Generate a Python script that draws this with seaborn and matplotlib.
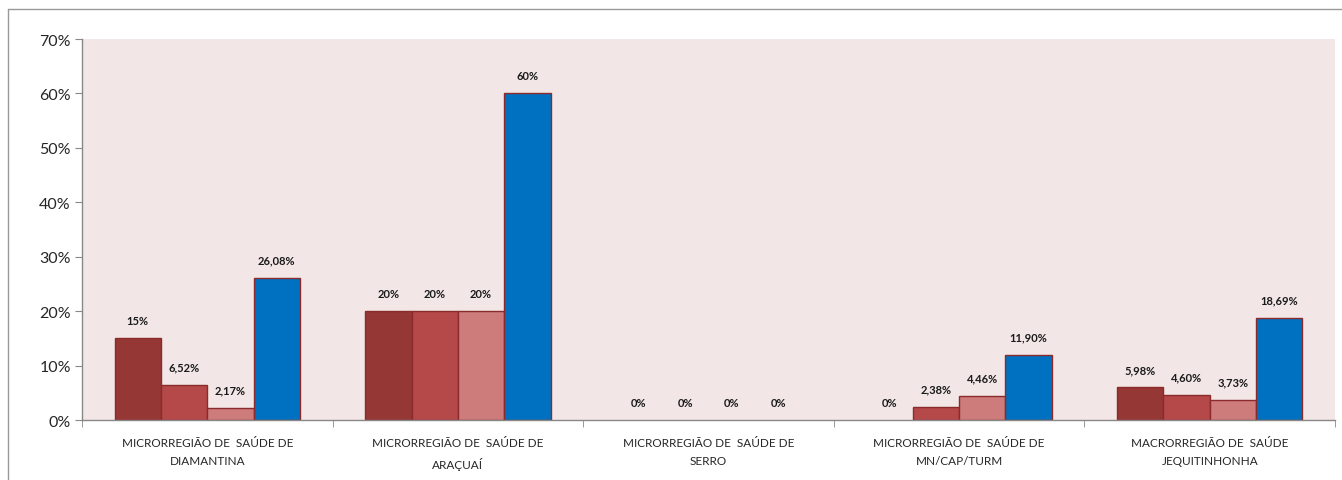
import pandas as pd
import numpy as np
import matplotlib.pyplot as plt
import seaborn as sns
from matplotlib.ticker import FuncFormatter, FixedLocator

# Data (percent)
categories = ['MICRORREGIÃO DE  SAÚDE DE\nDIAMANTINA',
              'MICRORREGIÃO DE  SAÚDE DE\nARAÇUAÍ',
              'MICRORREGIÃO DE  SAÚDE DE\nSERRO',
              'MICRORREGIÃO DE  SAÚDE DE\nMN/CAP/TURM',
              'MACRORREGIÃO DE  SAÚDE\nJEQUITINHONHA']
series = ['Série 1', 'Série 2', 'Série 3', 'Série 4']
serie_1 = [15, 20, 0, 0, 5.98]
serie_2 = [6.52, 20, 0, 2.38, 4.60]
serie_3 = [2.17, 20, 0, 4.46, 3.73]
serie_4 = [26.08, 60, 0, 11.90, 18.69]
colors = ['#953735', '#B54848', '#CD7B7B', '#0070C0']

rows = []
for name, vals in zip(series, [serie_1, serie_2, serie_3, serie_4]):
    for cat, v in zip(categories, vals):
        rows.append({'Região': cat, 'Série': name, 'Valor': v})
df = pd.DataFrame(rows)

sns.set_style('white')
plt.rcParams['font.family'] = ['Lato', 'DejaVu Sans']

fig = plt.figure(figsize=(13.42, 4.81), dpi=100)
ax = fig.add_axes([0.0611, 0.1247, 0.9337, 0.7921])

sns.barplot(data=df, x='Região', y='Valor', hue='Série', palette=colors,
            width=0.74, gap=0, ax=ax, legend=False, saturation=1,
            edgecolor='#8B2B2B', linewidth=1.0)

ax.set_facecolor('#F2E6E6')
ax.set_ylim(0, 70)
ax.set_xlim(-0.5, len(categories) - 0.5)
ax.yaxis.set_major_locator(FixedLocator(np.arange(0, 71, 10)))
ax.yaxis.set_major_formatter(FuncFormatter(lambda v, p: f'{v:.0f}%'))
ax.set_xlabel('')
ax.set_ylabel('')

def fmt(v):
    if float(v).is_integer():
        return f'{v:.0f}%'
    return f'{v:.2f}%'.replace('.', ',')

for cont, vals in zip(ax.containers, [serie_1, serie_2, serie_3, serie_4]):
    for bar, v in zip(cont, vals):
        if v == 0:
            bar.set_linewidth(0)
    ax.bar_label(cont, labels=[fmt(v) for v in vals], padding=9,
                 fontsize=8, fontweight='bold', color='#1a1a1a')

for s in ['top', 'right']:
    ax.spines[s].set_visible(False)
for s in ['left', 'bottom']:
    ax.spines[s].set_color('#888888')
    ax.spines[s].set_linewidth(1.0)

ax.tick_params(axis='y', which='major', left=True, length=5, color='#888888',
               labelsize=11.5, labelcolor='#262626', pad=3)
ax.tick_params(axis='x', which='major', bottom=False, labelsize=8.5,
               labelcolor='#262626', pad=9)
for lab in ax.get_xticklabels():
    lab.set_linespacing(1.75)
ax.set_xticks(np.arange(-0.5, len(categories), 1), minor=True)
ax.tick_params(axis='x', which='minor', bottom=True, length=5, color='#888888')

# outer chart frame
fig.add_artist(plt.Line2D([8 / 1342, 8 / 1342], [0, 1 - 10 / 481],
                          transform=fig.transFigure, color='#999999', lw=1))
fig.add_artist(plt.Line2D([8 / 1342, 1.0], [1 - 10 / 481, 1 - 10 / 481],
                          transform=fig.transFigure, color='#999999', lw=1))

plt.savefig('out.png', dpi=100)
